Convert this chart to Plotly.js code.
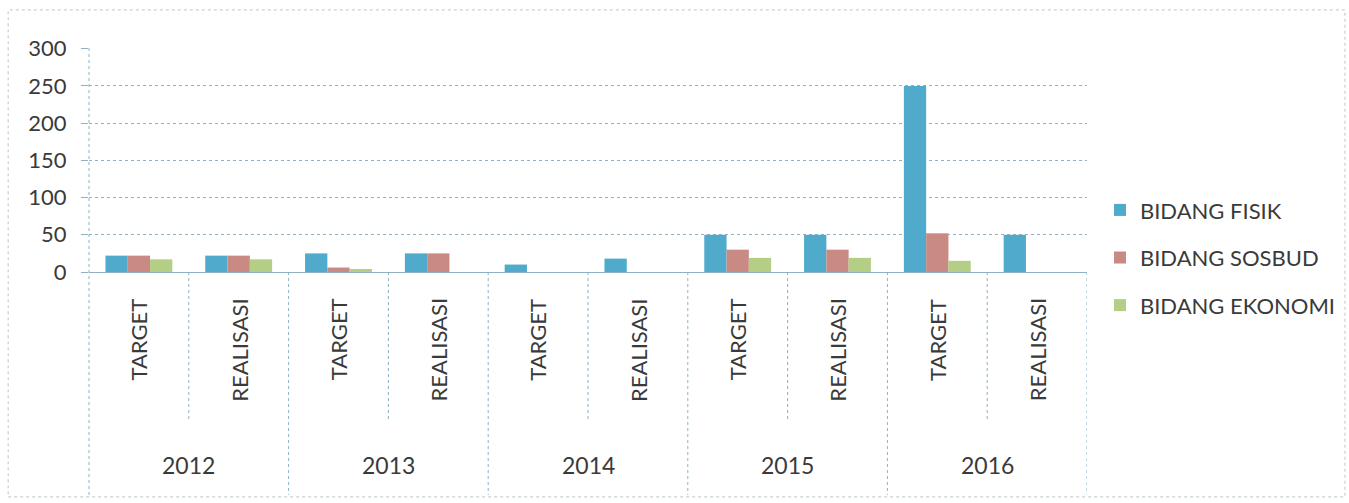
<!DOCTYPE html>
<html>
<head>
<meta charset="utf-8">
<script src="https://cdn.plot.ly/plotly-3.0.1.min.js"></script>
<style>
html,body{margin:0;padding:0;background:#fff;}
#chart{width:1349px;height:503px;}
</style>
</head>
<body>
<div id="chart"></div>
<script>
var years = ['2012','2013','2014','2015','2016'];
var stages = ['TARGET','REALISASI'];
var seriesNames = ['BIDANG FISIK','BIDANG SOSBUD','BIDANG EKONOMI'];
var fisik   = [22,22,25,25,10,18,50,50,250,50];
var sosbud  = [22,22,6,25,0,0,30,30,52,0];
var ekonomi = [17,17,4,0,0,0,19,19,15,0];
var yTicks = [0,50,100,150,200,250,300];

var cats = [];
years.forEach(function(y){ stages.forEach(function(s){ cats.push(y+' '+s); }); });

var colors = ['#4faacb','#c98a84','#b4cf85'];
var vals = [fisik, sosbud, ekonomi];

var traces = vals.map(function(v,i){
  return {
    type:'bar', x:cats, y:v, name:seriesNames[i],
    legendgroup:'g'+i,
    marker:{color:colors[i], line:{width:0}},
    hoverinfo:'y'
  };
});

var gridCol = '#8fb1c2';
var txtCol = '#3a3a3a';
var font = 'Lato, "Open Sans", sans-serif';

var shapes = [];
var annotations = [];
for (var i=1;i<=cats.length;i++){
  var isYear = (i%2===0);
  shapes.push({type:'line', xref:'x', yref:'paper', x0:i-0.5, x1:i-0.5,
    y0:0, y1: isYear ? -0.995 : -0.66,
    line:{color:gridCol, width:1, dash:'dot'}});
}
shapes.push({type:'line', xref:'paper', yref:'paper', x0:0, x1:0, y0:1, y1:-0.995,
  line:{color:gridCol, width:1, dash:'dot'}});
shapes.push({type:'rect', xref:'paper', yref:'paper', x0:-0.081, x1:1.2585, y0:-1.004, y1:1.17,
  line:{color:'#b7c6cf', width:1, dash:'dot'}, fillcolor:'rgba(0,0,0,0)'});

cats.forEach(function(c,i){
  annotations.push({xref:'x', yref:'paper', x:i, y:-0.11, text:stages[i%2], showarrow:false,
    textangle:-90, xanchor:'center', yanchor:'top', font:{family:font, size:22, color:txtCol}});
});
years.forEach(function(y,j){
  annotations.push({xref:'x', yref:'paper', x:2*j+0.5, y:-0.86, text:y, showarrow:false,
    xanchor:'center', yanchor:'middle', font:{family:font, size:23, color:txtCol}});
});

var layout = {
  width:1349, height:503,
  margin:{l:89, r:262, t:48, b:231, autoexpand:false},
  paper_bgcolor:'#ffffff', plot_bgcolor:'#ffffff',
  barmode:'group', bargap:0.33, bargroupgap:0,
  showlegend:true,
  legend:{x:1.013, y:0.37, xanchor:'left', yanchor:'top', tracegroupgap:16,
    font:{family:font, size:22, color:txtCol}, bgcolor:'rgba(0,0,0,0)'},
  xaxis:{type:'category', range:[-0.5,9.5], showticklabels:false, ticks:'',
    showgrid:false, zeroline:false, showline:false, fixedrange:true},
  yaxis:{range:[0,301], tickvals:yTicks, ticktext:yTicks.map(String),
    showgrid:true, gridcolor:gridCol, griddash:'dot', gridwidth:1,
    zeroline:true, zerolinecolor:gridCol, zerolinewidth:1,
    showline:false, ticks:'outside', ticklen:7, tickcolor:gridCol,
    ticklabelstandoff:10,
    tickfont:{family:font, size:22, color:txtCol}, fixedrange:true},
  shapes:shapes,
  annotations:annotations
};

Plotly.newPlot('chart', traces, layout, {displayModeBar:false, staticPlot:true});
</script>
</body>
</html>
